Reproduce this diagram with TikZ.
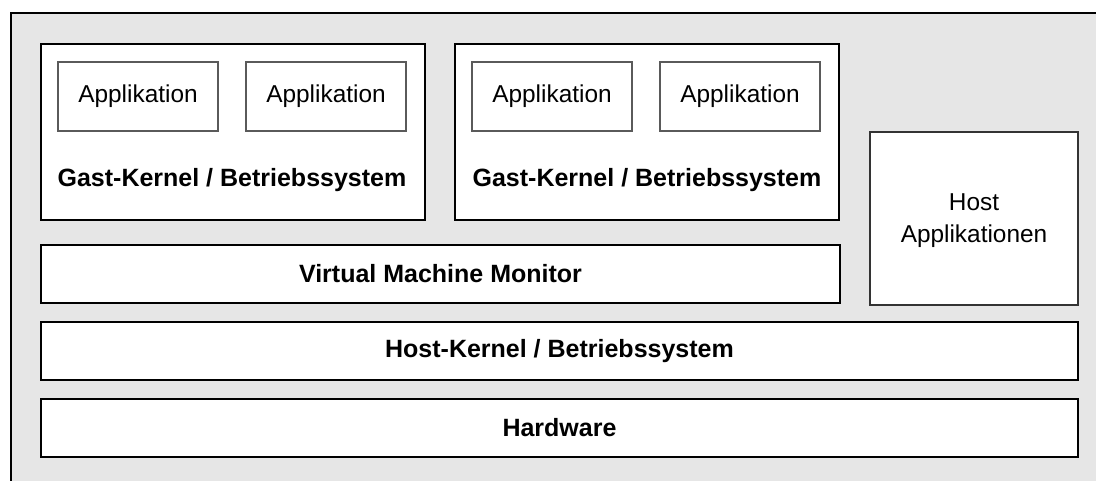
\documentclass[tikz,border=0pt]{standalone}
\usepackage{fontspec}
\setmainfont{Liberation Sans}
\definecolor{panel}{HTML}{E6E6E6}
\definecolor{appline}{HTML}{5A5A5A}
\definecolor{hostline}{HTML}{333333}
\begin{document}
\begin{tikzpicture}[x=1bp,y=-1bp,
  layer/.style={draw=black, line width=2bp, fill=white, inner sep=0pt,
    font=\fontsize{25bp}{29bp}\selectfont\bfseries},
  appbox/.style={draw=appline, line width=2bp, fill=white, inner sep=0pt,
    minimum width=160bp, minimum height=69bp,
    font=\fontsize{24.4bp}{29bp}\selectfont},
  hostbox/.style={draw=hostline, line width=1.5bp, fill=white, inner sep=0pt,
    minimum width=208bp, minimum height=173bp},
  hosttext/.style={inner sep=0pt, align=center,
    font=\fontsize{24.4bp}{32bp}\selectfont},
  caption/.style={inner sep=0pt, font=\fontsize{25bp}{29bp}\selectfont\bfseries}]
\useasboundingbox (0,0) rectangle (1096,481);
% grey panel, framed on the left and top
\fill[panel] (11,13) rectangle (1096,481);
\draw[line width=1.5bp] (11,481) -- (11,13) -- (1096,13);

% guest systems
\node[layer, minimum width=384bp, minimum height=176bp] (g1) at (233,132) {};
\node[layer, minimum width=384bp, minimum height=176bp] (g2) at (647,132) {};
\node[appbox] (a1) at (138,96.5) {Applikation};
\node[appbox] (a2) at (326,96.5) {Applikation};
\node[appbox] (a3) at (552,96.5) {Applikation};
\node[appbox] (a4) at (740,96.5) {Applikation};
\node[caption] (k1) at (232,180) {Gast-Kernel / Betriebssystem};
\node[caption] (k2) at (647,180) {Gast-Kernel / Betriebssystem};

% host applications
\node[hostbox] (ha) at (974,218.5) {};
\node[hosttext] (hat) at (974,221) {Host\\Applikationen};

% lower layers
\node[layer, minimum width=799bp, minimum height=58bp] (vmm) at (440.5,274) {Virtual Machine Monitor};
\node[layer, minimum width=1037bp, minimum height=58bp] (hk) at (559.5,351) {Host-Kernel / Betriebssystem};
\node[layer, minimum width=1037bp, minimum height=58bp] (hw) at (559.5,428) {Hardware};
\end{tikzpicture}
\end{document}
